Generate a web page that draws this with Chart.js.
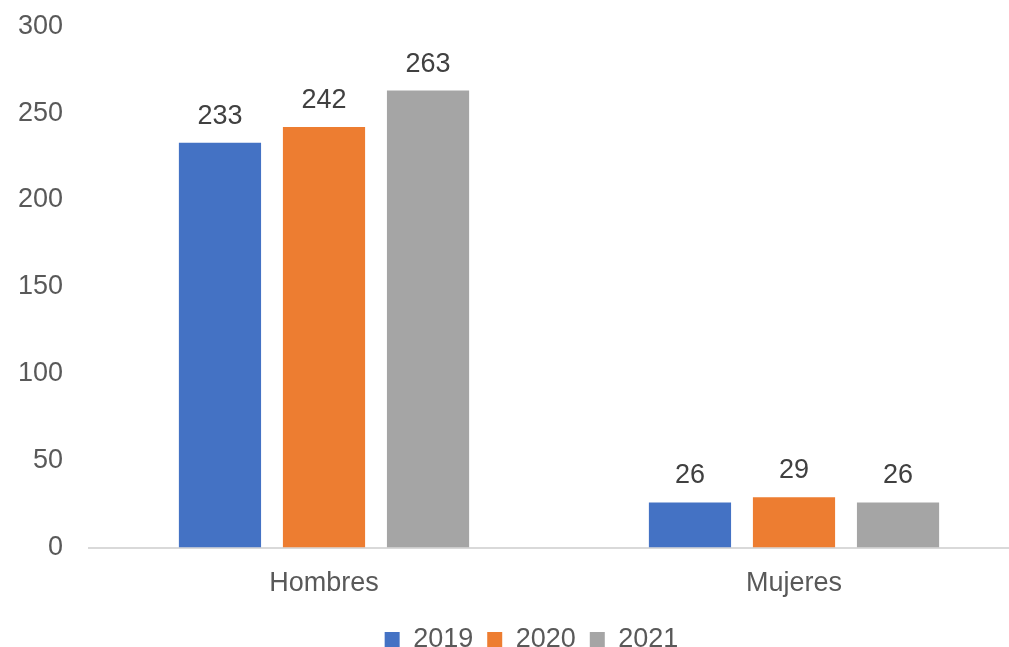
<!DOCTYPE html>
<html>
<head>
<meta charset="utf-8">
<script src="https://cdn.jsdelivr.net/npm/chart.js@4.4.0/dist/chart.umd.min.js"></script>
<style>
  html, body { margin: 0; padding: 0; background: #fff; overflow: hidden; }
  #wrap { width: 1009px; height: 647px; overflow: hidden; }
  #chart { display: block; margin-top: -8px; }
</style>
</head>
<body>
<div id="wrap"><canvas id="chart" width="1029" height="665"></canvas></div>
<script>
const categories = ["Hombres", "Mujeres"];
const years = ["2019", "2020", "2021"];
const values2019 = [233, 26];
const values2020 = [242, 29];
const values2021 = [263, 26];
const colors = ["#4472C4", "#ED7D31", "#A5A5A5"];

const FONT = "'Liberation Sans', Arial, sans-serif";

// draws the numbers on top of each bar
const barLabels = {
  id: "barLabels",
  afterDatasetsDraw(chart) {
    const ctx = chart.ctx;
    ctx.save();
    ctx.font = "27px " + FONT;
    ctx.fillStyle = "#404040";
    ctx.textAlign = "center";
    ctx.textBaseline = "alphabetic";
    chart.data.datasets.forEach((ds, i) => {
      chart.getDatasetMeta(i).data.forEach((bar, j) => {
        ctx.fillText(ds.data[j], bar.x, bar.y - 19);
      });
    });
    ctx.restore();
  }
};

// nudge the legend a bit to the right, like in the original
const legendShift = {
  id: "legendShift",
  beforeDraw(chart) {
    const lg = chart.legend;
    if (lg && !lg._shifted) {
      lg.left += 17;
      lg.right += 17;
      lg._shifted = true;
    }
  }
};

new Chart(document.getElementById("chart").getContext("2d"), {
  type: "bar",
  data: {
    labels: categories,
    datasets: [
      { label: years[0], data: values2019, backgroundColor: colors[0] },
      { label: years[1], data: values2020, backgroundColor: colors[1] },
      { label: years[2], data: values2021, backgroundColor: colors[2] }
    ]
  },
  options: {
    responsive: false,
    animation: false,
    categoryPercentage: 0.664,
    barPercentage: 0.79,
    layout: { padding: { top: -8, right: 0, left: 0, bottom: -6 } },
    plugins: {
      tooltip: { enabled: false },
      legend: {
        position: "bottom",
        labels: {
          boxWidth: 15,
          boxHeight: 15,
          padding: 14,
          color: "#595959",
          font: { family: FONT, size: 27 }
        }
      }
    },
    scales: {
      x: {
        grid: { display: false },
        border: { display: true, color: "#D9D9D9", width: 2 },
        ticks: {
          color: "#595959",
          padding: 12,
          font: { family: FONT, size: 27 }
        }
      },
      y: {
        min: 0,
        max: 300,
        grid: { display: false },
        border: { display: false },
        afterFit(scale) { scale.width = 89; },
        ticks: {
          stepSize: 50,
          color: "#595959",
          padding: 18,
          font: { family: FONT, size: 27 }
        }
      }
    }
  },
  plugins: [barLabels, legendShift]
});
</script>
</body>
</html>
